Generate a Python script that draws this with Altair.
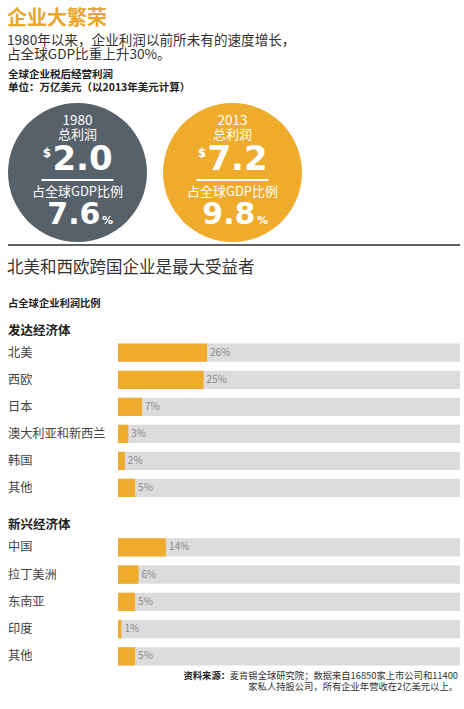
import altair as alt
import pandas as pd

# ---------------- data ----------------
years = ["1980", "2013"]
profit_trillion = [2.0, 7.2]
gdp_share_pct = [7.6, 9.8]
circle_colors = ["#56616a", "#efab2b"]

developed = ["北美", "西欧", "日本", "澳大利亚和新西兰", "韩国", "其他"]
developed_share = [26, 25, 7, 3, 2, 5]
emerging = ["中国", "拉丁美洲", "东南亚", "印度", "其他"]
emerging_share = [14, 6, 5, 1, 5]

FONT = "Noto Sans CJK SC"
NUM_FONT = "DejaVu Sans"
ORANGE = "#efab2b"
GREY_BG = "#dcdcdc"
DARK = "#333333"


def txt(s, x, y, size, weight="normal", color=DARK, align="left", font=FONT, baseline="middle"):
    return alt.Chart(pd.DataFrame({"t": [s]})).mark_text(
        font=font, fontSize=size, fontWeight=weight, color=color,
        align=align, baseline=baseline
    ).encode(text="t:N", x=alt.value(x), y=alt.value(y))


# ---------------- header texts ----------------
texts = [
    txt("企业大繁荣", 7, 19, 20, weight="bold", color="#e9a52c"),
    txt("1980年以来，企业利润以前所未有的速度增长，", 7, 41.2, 13.6),
    txt("占全球GDP比重上升30%。", 7, 55.2, 13.6),
    txt("全球企业税后经营利润", 8, 75, 10.5, weight="bold", color="#222"),
    txt("单位：万亿美元（以2013年美元计算）", 8, 87.5, 10.5, weight="bold", color="#222"),
    txt("北美和西欧跨国企业是最大受益者", 7, 268, 16.5),
    txt("占全球企业利润比例", 8, 303.5, 10.3, weight="bold", color="#222"),
    txt("发达经济体", 8, 331, 12.5, weight="bold", color="#222"),
    txt("新兴经济体", 8, 525, 12.5, weight="bold", color="#222"),
    txt("资料来源：", 230, 676, 9.3, weight="bold", color="#222", align="right"),
    txt("麦肯锡全球研究院；数据来自16850家上市公司和11400", 458, 676, 9.3, color="#333", align="right"),
    txt("家私人持股公司，所有企业年营收在2亿美元以上。", 458, 686.5, 9.3, color="#333", align="right"),
]

divider = alt.Chart(pd.DataFrame({"d": [0]})).mark_rule(color="#2b2b2b", strokeWidth=1.5).encode(
    x=alt.value(8), x2=alt.value(460), y=alt.value(245)
)

# ---------------- circles ----------------
circ_df = pd.DataFrame({
    "year": years,
    "profit": [f"{v:.1f}" for v in profit_trillion],
    "share": [f"{v:.1f}" for v in gdp_share_pct],
    "color": circle_colors,
})
xyear = alt.X("year:N", scale=alt.Scale(type="point", domain=years, range=[77.5, 232.5], padding=0), axis=None)
cb = alt.Chart(circ_df).encode(x=xyear)

circles = alt.layer(
    cb.mark_circle(size=19321, opacity=1).encode(y=alt.value(172.5), color=alt.Color("color:N", scale=None)),
    cb.mark_text(font=FONT, fontSize=13.5, color="white").encode(text="year:N", y=alt.value(121)),
    cb.mark_text(font=FONT, fontSize=13, color="white").encode(text=alt.value("总利润"), y=alt.value(135)),
    cb.mark_text(font=NUM_FONT, fontSize=34, fontWeight="bold", color="white", baseline="alphabetic", dx=5).encode(
        text="profit:N", y=alt.value(170)),
    cb.mark_text(font=NUM_FONT, fontSize=12, fontWeight="bold", color="white", baseline="alphabetic", dx=-30.5).encode(
        text=alt.value("$"), y=alt.value(156.5)),
    cb.mark_tick(orient="horizontal", size=72, thickness=2, color="white", opacity=1).encode(y=alt.value(180)),
    cb.mark_text(font=FONT, fontSize=13, color="white").encode(text=alt.value("占全球GDP比例"), y=alt.value(191.5)),
    cb.mark_text(font=NUM_FONT, fontSize=30, fontWeight="bold", color="white", baseline="alphabetic", align="right", dx=23).encode(
        text="share:N", y=alt.value(224)),
    cb.mark_text(font=NUM_FONT, fontSize=11, fontWeight="bold", color="white", baseline="alphabetic", align="left", dx=24.5).encode(
        text=alt.value("%"), y=alt.value(224)),
)


# ---------------- bar groups ----------------
def group(names, shares, y0, y1):
    df = pd.DataFrame({"region": names, "share": shares, "label": [f"{v}%" for v in shares]})
    ys = alt.Y("region:N", sort=names,
               scale=alt.Scale(domain=names, range=[y0, y1], paddingInner=0.325, paddingOuter=0.1625),
               axis=None)
    xs = alt.Scale(domain=[0, 100], range=[118, 460])
    base = alt.Chart(df).encode(y=ys)
    bg = base.transform_calculate(full="100").mark_bar(color=GREY_BG).encode(
        x=alt.X("full:Q", scale=xs, axis=None))
    fg = base.mark_bar(color=ORANGE).encode(x=alt.X("share:Q", scale=xs, axis=None))
    val = base.mark_text(align="left", dx=3, font=FONT, fontSize=10, color="#8a8a8a").encode(
        x=alt.X("share:Q", scale=xs, axis=None), text="label:N")
    lab = base.mark_text(align="left", font=FONT, fontSize=12.2, color="#444").encode(
        x=alt.value(8), text="region:N")
    return alt.layer(bg, fg, val, lab)


dev = group(developed, developed_share, 339.2, 501.5)
emg = group(emerging, emerging_share, 533.7, 670.0)

chart = alt.layer(*texts, divider, circles, dev, emg).resolve_scale(
    x="independent", y="independent"
).properties(
    width=464, height=709, padding=0,
    autosize=alt.AutoSizeParams(type="none"),
    background="white",
).configure_view(stroke=None)

chart.save("out.html", embed_options={"renderer": "svg", "actions": False})
